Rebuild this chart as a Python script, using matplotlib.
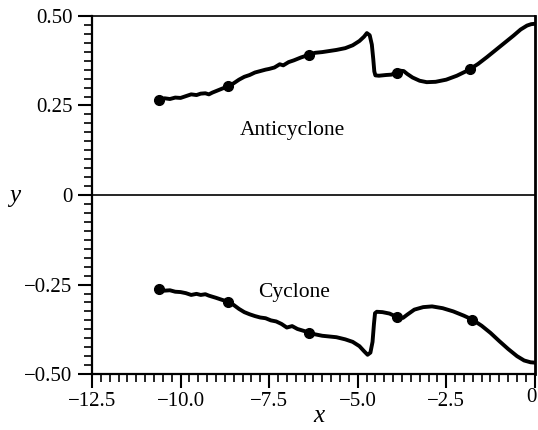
import matplotlib
matplotlib.use('Agg')
import matplotlib.pyplot as plt
from matplotlib.ticker import MultipleLocator

plt.rcParams['font.family'] = ['Liberation Serif', 'DejaVu Serif']

# anticyclone track (upper curve)
anti_x = [-10.62, -10.45, -10.3, -10.15, -10.0, -9.85, -9.7, -9.55, -9.43, -9.3, -9.2, -9.1,
          -9.0, -8.9, -8.8, -8.66, -8.5, -8.35, -8.2, -8.05, -7.9, -7.75, -7.6, -7.5, -7.35,
          -7.2, -7.1, -6.95, -6.8, -6.6, -6.45, -6.36, -6.2, -6.0, -5.8, -5.6, -5.35, -5.14,
          -4.95, -4.82, -4.74, -4.66, -4.6, -4.56, -4.53, -4.5, -4.4, -4.2, -4.05, -3.9, -3.8,
          -3.7, -3.6, -3.45, -3.25, -3.05, -2.8, -2.5, -2.2, -1.95, -1.82, -1.6, -1.35, -1.1,
          -0.85, -0.6, -0.4, -0.22, -0.1, 0.0]
anti_y = [0.265, 0.27, 0.268, 0.272, 0.271, 0.276, 0.281, 0.279, 0.283, 0.284, 0.281, 0.286,
          0.29, 0.294, 0.298, 0.303, 0.312, 0.322, 0.33, 0.335, 0.342, 0.346, 0.35, 0.352, 0.356,
          0.365, 0.362, 0.371, 0.376, 0.384, 0.389, 0.392, 0.397, 0.399, 0.402, 0.405, 0.41, 0.418,
          0.43, 0.442, 0.452, 0.446, 0.42, 0.38, 0.345, 0.334, 0.333, 0.335, 0.336, 0.342, 0.347,
          0.346, 0.338, 0.328, 0.319, 0.315, 0.316, 0.322, 0.333, 0.345, 0.352, 0.366, 0.385, 0.405,
          0.425, 0.445, 0.462, 0.473, 0.477, 0.478]

# cyclone track (lower curve)
cyc_x = [-10.62, -10.45, -10.3, -10.15, -10.0, -9.85, -9.7, -9.55, -9.43, -9.3, -9.2, -9.1,
         -9.0, -8.85, -8.66, -8.5, -8.35, -8.2, -8.05, -7.9, -7.75, -7.6, -7.45, -7.3, -7.15,
         -7.0, -6.85, -6.7, -6.5, -6.36, -6.2, -6.0, -5.8, -5.6, -5.35, -5.14, -4.95, -4.82,
         -4.72, -4.64, -4.58, -4.54, -4.51, -4.46, -4.3, -4.1, -3.95, -3.85, -3.72, -3.6, -3.4,
         -3.15, -2.9, -2.6, -2.3, -2.0, -1.76, -1.5, -1.25, -1.0, -0.75, -0.5, -0.3, -0.12, 0.0]
cyc_y = [-0.263, -0.267, -0.266, -0.27, -0.271, -0.274, -0.279, -0.276, -0.279, -0.277, -0.281,
         -0.284, -0.287, -0.292, -0.298, -0.307, -0.318, -0.327, -0.333, -0.338, -0.342, -0.344,
         -0.35, -0.353, -0.36, -0.37, -0.366, -0.374, -0.38, -0.385, -0.389, -0.393, -0.395, -0.397,
         -0.403, -0.41, -0.422, -0.436, -0.446, -0.44, -0.41, -0.36, -0.33, -0.326, -0.327, -0.331,
         -0.338, -0.342, -0.343, -0.334, -0.32, -0.313, -0.311, -0.316, -0.325, -0.337, -0.348,
         -0.365, -0.385, -0.408, -0.43, -0.45, -0.462, -0.467, -0.468]

# marked positions along each track
anti_mark_x = [-10.62, -8.66, -6.36, -3.9, -1.82]
anti_mark_y = [0.265, 0.303, 0.392, 0.342, 0.352]
cyc_mark_x = [-10.62, -8.66, -6.36, -3.9, -1.76]
cyc_mark_y = [-0.263, -0.298, -0.385, -0.34, -0.348]

fig = plt.figure(figsize=(5.38, 4.30), dpi=100)
ax = fig.add_axes([0.171, 0.130, 0.823, 0.833])

ax.plot(anti_x, anti_y, color='black', lw=2.8, solid_joinstyle='round')
ax.plot(cyc_x, cyc_y, color='black', lw=2.8, solid_joinstyle='round')
ax.plot(anti_mark_x, anti_mark_y, 'o', color='black', ms=7)
ax.plot(cyc_mark_x, cyc_mark_y, 'o', color='black', ms=7)
ax.axhline(0, color='black', lw=1.2)

ax.text(-6.85, 0.18, 'Anticyclone', fontsize=15.5, ha='center', va='center')
ax.text(-6.8, -0.272, 'Cyclone', fontsize=15.5, ha='center', va='center')

ax.set_xlim(-12.5, 0)
ax.set_ylim(-0.5, 0.5)
ax.xaxis.set_major_locator(MultipleLocator(2.5))
ax.xaxis.set_minor_locator(MultipleLocator(0.25))
ax.yaxis.set_major_locator(MultipleLocator(0.25))
ax.yaxis.set_minor_locator(MultipleLocator(0.025))

# the "0" at the right end would run off the figure, so it is drawn separately below
def fmt_x(v, pos):
    return '\u2212%.1f' % abs(v) if v < -1e-9 else ''

def fmt_y(v, pos):
    if abs(v) < 1e-9:
        return '0'
    return ('\u2212%.2f' % abs(v)) if v < 0 else '%.2f' % v

ax.xaxis.set_major_formatter(plt.FuncFormatter(fmt_x))
ax.yaxis.set_major_formatter(plt.FuncFormatter(fmt_y))
ax.tick_params(which='major', direction='out', length=10, width=1.5, labelsize=15, color='black')
ax.tick_params(which='minor', direction='out', length=6, width=1.2)
ax.tick_params(axis='x', pad=3)
ax.tick_params(axis='y', pad=4)

ax.annotate('0', xy=(1, 0), xycoords='axes fraction', xytext=(1.5, -10), textcoords='offset points',
            ha='right', va='top', fontsize=15)

for side, w in [('left', 1.6), ('bottom', 1.6), ('top', 1.2), ('right', 2.0)]:
    ax.spines[side].set_linewidth(w)

fig.text(0.028, 0.545, 'y', fontsize=18, style='italic', ha='center', va='center')
fig.text(0.592, 0.032, 'x', fontsize=18, style='italic', ha='center', va='center')

fig.savefig('out.png', dpi=100)
